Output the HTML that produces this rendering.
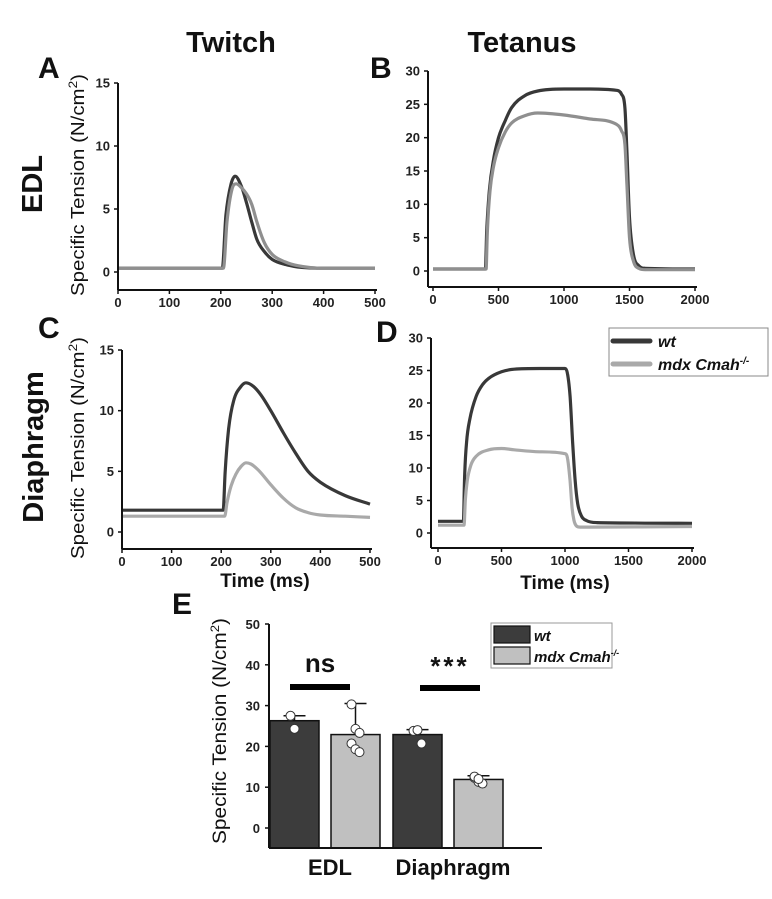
<!DOCTYPE html>
<html><head><meta charset="utf-8"><style>
html,body{margin:0;padding:0;background:#fff;}
svg{display:block;font-family:"Liberation Sans",Arial,sans-serif;}
.tk{font-size:13px;font-weight:bold;fill:#222;}
.big{font-weight:bold;fill:#111;}
</style></head><body>
<svg id="fig" width="772" height="899" viewBox="0 0 772 899" xmlns="http://www.w3.org/2000/svg">
<text x="231" y="52" text-anchor="middle" class="big" font-size="29">Twitch</text>
<text x="522" y="52" text-anchor="middle" class="big" font-size="29">Tetanus</text>
<text x="38" y="78" class="big" font-size="30">A</text>
<text x="370" y="78" class="big" font-size="30">B</text>
<text x="38" y="338" class="big" font-size="30">C</text>
<text x="376" y="342" class="big" font-size="30">D</text>
<text x="172" y="614" class="big" font-size="30">E</text>
<text transform="translate(42,184) rotate(-90)" text-anchor="middle" class="big" font-size="29">EDL</text>
<text transform="translate(43,447) rotate(-90)" text-anchor="middle" class="big" font-size="29">Diaphragm</text>
<g id="plots"></g>
</svg>
<script>
// ---- data (time ms, tension N/cm2) ----
const aWtT=[0,203,210,220,228,240,250,260,270,285,300,325,350,400,500];
const aWtV=[0.3,0.3,4.5,7.0,7.6,6.8,5.5,4.0,2.6,1.6,1.0,0.6,0.4,0.3,0.3];
const aMdT=[0,205,212,222,230,240,250,260,270,285,300,325,350,400,500];
const aMdV=[0.3,0.3,4.0,6.6,7.0,6.7,6.2,5.4,4.0,2.3,1.4,0.8,0.5,0.3,0.3];
const bWtT=[0,400,410,430,460,500,550,600,700,800,1000,1200,1400,1440,1465,1480,1500,1530,1570,1620,2000];
const bWtV=[0.3,0.3,6,12,16.5,20,22.5,24.5,26.3,27,27.3,27.3,27.1,26.5,24.5,18,8,2.5,0.8,0.4,0.3];
const bMdT=[0,405,415,435,460,500,550,600,700,800,1000,1200,1400,1440,1465,1480,1500,1530,1570,1620,2000];
const bMdV=[0.3,0.3,6,12,15.5,18.5,20.8,22.2,23.3,23.7,23.4,22.8,22,21,19,13,5,1.5,0.4,0.2,0.2];
const cWtT=[0,204,208,215,225,240,250,265,280,300,325,350,375,400,450,500];
const cWtV=[1.8,1.8,5,8.5,10.8,12.0,12.3,12.0,11.3,10.0,8.2,6.5,5.0,4.1,3.0,2.3];
const cMdT=[0,207,212,220,230,240,250,260,275,300,325,350,375,400,450,500];
const cMdV=[1.3,1.3,2.5,3.8,4.8,5.4,5.7,5.6,5.1,3.9,2.8,2.0,1.6,1.4,1.3,1.2];
const dWtT=[0,200,210,225,250,300,350,400,500,600,800,1000,1020,1040,1060,1080,1100,1130,1170,1250,2000];
const dWtV=[1.8,1.8,9,14,17.5,21,22.8,23.8,24.8,25.2,25.3,25.3,24.5,21,14,8,4.5,2.6,1.9,1.6,1.5];
const dMdT=[0,205,215,230,260,300,400,500,600,800,1000,1020,1040,1055,1070,1090,1120,1200,2000];
const dMdV=[1.2,1.2,5,8,10.5,11.8,12.8,13.0,12.8,12.5,12.2,11.5,8,4,2,1.1,0.9,0.9,1.0];
// ---- bar data ----
const barCats=["EDL","Diaphragm"];
const barWt=[26.3,22.9];
const barMdx=[22.9,11.9];
const errWt=[27.5,24.1];
const errMdx=[30.5,12.8];
const ptsWt=[[27.5,24.3],[23.8,24.0,20.7]];
const ptsMdx=[[30.3,24.3,23.3,20.7,19.3,18.6],[12.3,11.3,10.9,12.6,12.0]];
const barTicks=[0,10,20,30,40,50];

const NS="http://www.w3.org/2000/svg";
const root=document.getElementById('plots');
function mk(tag,attrs,parent){const e=document.createElementNS(NS,tag);for(const k in attrs)e.setAttribute(k,attrs[k]);(parent||root).appendChild(e);return e;}

// monotone cubic path (Fritsch-Carlson)
function monoPath(xs,ys){
  const n=xs.length,d=[],m=[];
  for(let i=0;i<n-1;i++)d.push((ys[i+1]-ys[i])/(xs[i+1]-xs[i]));
  m[0]=d[0];m[n-1]=d[n-2];
  for(let i=1;i<n-1;i++){m[i]=(d[i-1]*d[i]<=0)?0:(d[i-1]+d[i])/2;}
  for(let i=0;i<n-1;i++){
    if(d[i]===0){m[i]=0;m[i+1]=0;continue;}
    const a=m[i]/d[i],b=m[i+1]/d[i],s=a*a+b*b;
    if(s>9){const t=3/Math.sqrt(s);m[i]=t*a*d[i];m[i+1]=t*b*d[i];}
  }
  let p='M'+xs[0].toFixed(1)+','+ys[0].toFixed(1);
  for(let i=0;i<n-1;i++){
    const h=(xs[i+1]-xs[i])/3;
    p+='C'+(xs[i]+h).toFixed(1)+','+(ys[i]+m[i]*h).toFixed(1)+' '+(xs[i+1]-h).toFixed(1)+','+(ys[i+1]-m[i+1]*h).toFixed(1)+' '+xs[i+1].toFixed(1)+','+ys[i+1].toFixed(1);
  }
  return p;
}

function panel(name,P,series,xt,yt,xlabel){
  const g=mk('g',{});
  
  
  const sx=v=>P.x0+(v-P.xmin)/(P.xmax-P.xmin)*(P.x1-P.x0);
  const sy=v=>P.y0+(v-P.ymin)/(P.ymax-P.ymin)*(P.y1-P.y0);
  series.forEach(s=>{
    const d=monoPath(s.t.map(sx),s.v.map(sy));
    const p=mk('path',{d:d,fill:'none',stroke:s.c,'stroke-width':3.2,'stroke-linejoin':'round'},g);
    
    
  });
  mk('line',{x1:P.ax,y1:sy(P.ymax),x2:P.ax,y2:P.by,stroke:'#111','stroke-width':2},g);
  mk('line',{x1:P.ax,y1:P.by,x2:P.x1+2,y2:P.by,stroke:'#111','stroke-width':2},g);
  yt.forEach(v=>{mk('line',{x1:P.ax-4,y1:sy(v),x2:P.ax,y2:sy(v),stroke:'#111','stroke-width':1.5},g);
    const t=mk('text',{x:P.ax-8,y:sy(v)+4.5,'text-anchor':'end',class:'tk'},g);t.textContent=v;
    });
  xt.forEach(v=>{mk('line',{x1:sx(v),y1:P.by,x2:sx(v),y2:P.by+4,stroke:'#111','stroke-width':1.5},g);
    const t=mk('text',{x:sx(v),y:P.by+17,'text-anchor':'middle',class:'tk'},g);t.textContent=v;
    });
  if(P.yl){const t=mk('text',{transform:'translate('+P.ylx+','+P.yly+') rotate(-90)','text-anchor':'middle','font-size':18,fill:'#111',textLength:222,lengthAdjust:'spacingAndGlyphs'},g);
    t.innerHTML='Specific Tension (N/cm<tspan dy="-7" font-size="12">2</tspan><tspan dy="7">)</tspan>';
    }
  if(xlabel){const t=mk('text',{x:xlabel[0],y:xlabel[1],'text-anchor':'middle','font-size':19,'font-weight':'bold',fill:'#111'},g);t.textContent='Time (ms)';
    }
}
const WT='#383838',MD1='#8f8f8f',MD2='#a9a9a9';
panel('panel-a-twitch-edl',{x0:118,x1:375,xmin:0,xmax:500,y0:272,y1:83,ymin:0,ymax:15,ax:118,by:290,yl:1,ylx:84,yly:185},
 [{t:aWtT,v:aWtV,c:WT,n:'wt-trace'},{t:aMdT,v:aMdV,c:MD1,n:'mdx-trace'}],[0,100,200,300,400,500],[0,5,10,15]);
panel('panel-b-tetanus-edl',{x0:433,x1:695,xmin:0,xmax:2000,y0:271,y1:71,ymin:0,ymax:30,ax:428,by:287},
 [{t:bWtT,v:bWtV,c:WT,n:'wt-trace'},{t:bMdT,v:bMdV,c:MD1,n:'mdx-trace'}],[0,500,1000,1500,2000],[0,5,10,15,20,25,30]);
panel('panel-c-twitch-diaphragm',{x0:122,x1:370,xmin:0,xmax:500,y0:532,y1:350,ymin:0,ymax:15,ax:122,by:549,yl:1,ylx:84,yly:448},
 [{t:cWtT,v:cWtV,c:WT,n:'wt-trace'},{t:cMdT,v:cMdV,c:MD2,n:'mdx-trace'}],[0,100,200,300,400,500],[0,5,10,15],[265,587]);
panel('panel-d-tetanus-diaphragm',{x0:438,x1:692,xmin:0,xmax:2000,y0:533,y1:338,ymin:0,ymax:30,ax:431,by:548},
 [{t:dWtT,v:dWtV,c:WT,n:'wt-trace'},{t:dMdT,v:dMdV,c:MD2,n:'mdx-trace'}],[0,500,1000,1500,2000],[0,5,10,15,20,25,30],[565,589]);

// legend D
(function(){
  const g=mk('g',{});
  
  
  mk('rect',{x:609,y:328,width:159,height:48,fill:'#fff',stroke:'#888','stroke-width':1},g);
  mk('line',{x1:613,y1:341,x2:650,y2:341,stroke:WT,'stroke-width':5,'stroke-linecap':'round'},g);
  mk('line',{x1:613,y1:364,x2:650,y2:364,stroke:MD2,'stroke-width':5,'stroke-linecap':'round'},g);
  let t=mk('text',{x:658,y:347,'font-size':16,'font-weight':'bold','font-style':'italic',fill:'#111'},g);t.textContent='wt';
  
  t=mk('text',{x:658,y:370,'font-size':16,'font-weight':'bold','font-style':'italic',fill:'#111'},g);
  t.innerHTML='mdx Cmah<tspan dy="-6" font-size="10">-/-</tspan>';
  
})();

// bar chart E
(function(){
  const g=mk('g',{});
  
  
  const ax=269,by=848,y0=828,y1=624;
  const sy=v=>y0+(v/50)*(y1-y0);
  const groupX=[270,393], bw=49, gap=61;
  barCats.forEach((c,i)=>{
    [[barWt,errWt,ptsWt,'#3c3c3c','wt'],[barMdx,errMdx,ptsMdx,'#c0c0c0','mdx']].forEach((s,j)=>{
      const x=groupX[i]+j*gap;
      const r=mk('rect',{x:x,y:sy(s[0][i]),width:bw,height:by-sy(s[0][i]),fill:s[3],stroke:'#111','stroke-width':1.5},g);
      
      
      const cx=x+bw/2;
      mk('line',{x1:cx,y1:sy(s[0][i]),x2:cx,y2:sy(s[1][i]),stroke:'#111','stroke-width':1.5},g);
      mk('line',{x1:cx-11,y1:sy(s[1][i]),x2:cx+11,y2:sy(s[1][i]),stroke:'#111','stroke-width':1.5},g);
      s[2][i].forEach((v,k)=>{
        const p=mk('circle',{cx:cx+((k%3)-1)*4,cy:sy(v),r:4.5,fill:'#fff',stroke:'#333','stroke-width':1},g);
        
        
      });
    });
    const t=mk('text',{x:groupX[i]+(bw+gap)/2+5,y:875,'text-anchor':'middle','font-size':22,'font-weight':'bold',fill:'#111'},g);
    t.textContent=c;
    
    
  });
  mk('line',{x1:ax,y1:y1,x2:ax,y2:by,stroke:'#111','stroke-width':2},g);
  mk('line',{x1:ax,y1:by,x2:542,y2:by,stroke:'#111','stroke-width':2},g);
  barTicks.forEach(v=>{mk('line',{x1:ax-4,y1:sy(v),x2:ax,y2:sy(v),stroke:'#111','stroke-width':1.5},g);
    const t=mk('text',{x:ax-9,y:sy(v)+5,'text-anchor':'end',class:'tk','font-size':14},g);t.textContent=v;
    });
  let t=mk('text',{transform:'translate(226,731) rotate(-90)','text-anchor':'middle','font-size':19,fill:'#111',textLength:226,lengthAdjust:'spacingAndGlyphs'},g);
  t.innerHTML='Specific Tension (N/cm<tspan dy="-7" font-size="12">2</tspan><tspan dy="7">)</tspan>';
  
  mk('rect',{x:290,y:684,width:60,height:6,fill:'#000'},g);
  mk('rect',{x:420,y:685,width:60,height:6,fill:'#000'},g);
  t=mk('text',{x:320,y:672,'text-anchor':'middle','font-size':26,'font-weight':'bold',fill:'#111'},g);t.textContent='ns';
  
  t=mk('text',{x:450,y:675,'text-anchor':'middle','font-size':26,'font-weight':'bold',fill:'#111','letter-spacing':3},g);t.textContent='***';
  
  // legend
  mk('rect',{x:491,y:623,width:121,height:45,fill:'#fff',stroke:'#999','stroke-width':1},g);
  mk('rect',{x:494,y:626,width:36,height:17,fill:'#3c3c3c',stroke:'#111','stroke-width':1.2},g);
  mk('rect',{x:494,y:647,width:36,height:17,fill:'#c0c0c0',stroke:'#111','stroke-width':1.2},g);
  t=mk('text',{x:534,y:641,'font-size':15,'font-weight':'bold','font-style':'italic',fill:'#111'},g);t.textContent='wt';
  
  t=mk('text',{x:534,y:662,'font-size':15,'font-weight':'bold','font-style':'italic',fill:'#111'},g);
  t.innerHTML='mdx Cmah<tspan dy="-6" font-size="9">-/-</tspan>';
  
})();
</script>
</body></html>
